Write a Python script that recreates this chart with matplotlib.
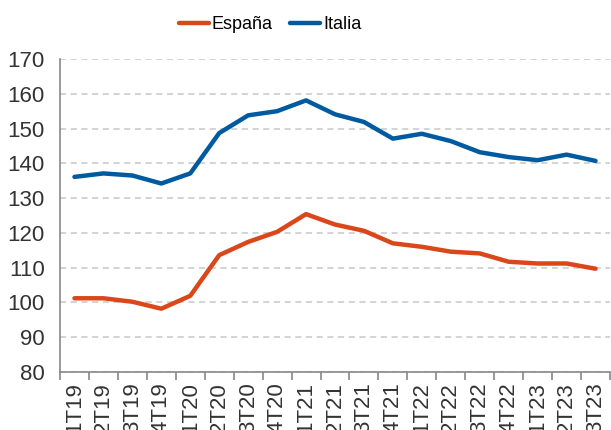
import numpy as np
import matplotlib.pyplot as plt

# --- datos ---
trimestres = ['1T19', '2T19', '3T19', '4T19', '1T20', '2T20', '3T20', '4T20',
              '1T21', '2T21', '3T21', '4T21', '1T22', '2T22', '3T22', '4T22',
              '1T23', '2T23', '3T23']
espana = [101.2, 101.2, 100.2, 98.2, 101.9, 113.6, 117.4, 120.3, 125.4, 122.4,
          120.6, 117.0, 116.0, 114.6, 114.1, 111.7, 111.2, 111.2, 109.7]
italia = [136.1, 137.1, 136.5, 134.2, 137.1, 148.7, 153.8, 155.0, 158.1, 154.1,
          151.9, 147.1, 148.5, 146.4, 143.2, 141.8, 140.9, 142.5, 140.7]

plt.rcParams['font.family'] = ['Liberation Sans', 'DejaVu Sans']

fig = plt.figure(figsize=(6.11, 4.30), dpi=100)
ax = fig.add_axes([60 / 611, 58 / 430, 550 / 611, 313 / 430])

x = np.arange(len(trimestres))
ax.plot(x, espana, color='#D9471B', lw=3.2, label='España', solid_capstyle='round')
ax.plot(x, italia, color='#005AA0', lw=3.2, label='Italia', solid_capstyle='round')

ax.set_xlim(-0.5, len(trimestres) - 0.5)
ax.set_ylim(80, 170)
ax.set_yticks(range(80, 171, 10))
ax.yaxis.grid(True, ls=(0, (4, 3)), color='#C8C8C8', lw=1.1)
ax.set_axisbelow(True)

# ticks del eje x entre categorías
ax.set_xticks(np.arange(-0.5, len(trimestres), 1))
ax.set_xticklabels([])
ax.set_xticks(x, minor=True)
ax.set_xticklabels(trimestres, minor=True, rotation=90, fontsize=16, color='#333333',
                   va='top')
ax.tick_params(axis='x', which='major', length=6, color='#888888', width=1.2, direction='out')
ax.tick_params(axis='x', which='minor', length=0, pad=7.5)
ax.tick_params(axis='y', length=0, labelsize=16, labelcolor='#333333', pad=11)

for s in ['top', 'right']:
    ax.spines[s].set_visible(False)
for s in ['left', 'bottom']:
    ax.spines[s].set_color('#888888')
    ax.spines[s].set_linewidth(1.2)

fig.legend(loc='upper center', bbox_to_anchor=(270 / 611, 1.0), ncol=2, frameon=False,
           fontsize=13, handlelength=1.65, handletextpad=0.15, columnspacing=1.0)

fig.savefig('out.png', dpi=100)
